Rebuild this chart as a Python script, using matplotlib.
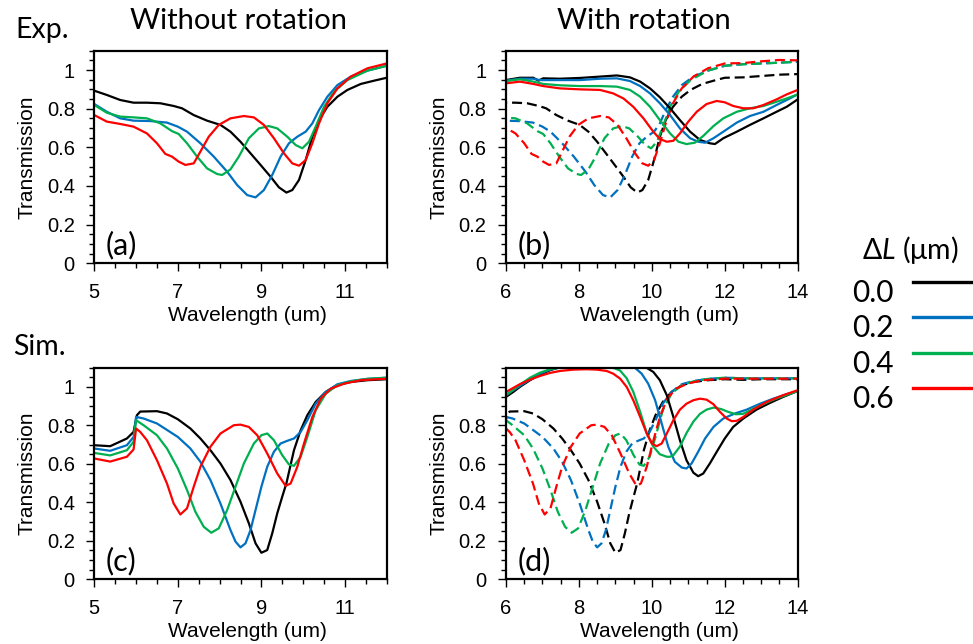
import matplotlib
matplotlib.use('Agg')
import matplotlib.pyplot as plt
from matplotlib.lines import Line2D
from matplotlib.ticker import MultipleLocator

plt.rcParams['font.family'] = ['Liberation Sans', 'DejaVu Sans']
plt.rcParams['mathtext.fontset'] = 'custom'
plt.rcParams['mathtext.rm'] = 'Lato'
plt.rcParams['mathtext.it'] = 'Lato:italic'

# ---- data ----
dL_labels = ['0.0', '0.2', '0.4', '0.6']
colors = ['#000000', '#0070C0', '#00B050', '#FF0000']

# Experiment, without rotation (panel a, and dashed lines in panel b)
exp_nr_wl = [
    [5.0, 5.3, 5.62, 5.94, 6.26, 6.58, 6.9, 7.1, 7.38, 7.7, 8.02, 8.26, 8.5, 8.74, 8.98, 9.22, 9.42, 9.6,
     9.74, 9.9, 10.06, 10.22, 10.38, 10.58, 10.82, 11.06, 11.38, 11.7, 12.0, 12.5, 13.0, 13.5, 14.0],
    [5.0, 5.3, 5.62, 5.94, 6.34, 6.74, 7.0, 7.22, 7.54, 7.86, 8.18, 8.42, 8.66, 8.86, 9.06, 9.26, 9.46,
     9.66, 9.86, 10.06, 10.22, 10.38, 10.58, 10.82, 11.14, 11.54, 12.0, 12.5, 13.0, 13.5, 14.0],
    [5.0, 5.3, 5.62, 5.94, 6.26, 6.58, 6.86, 7.02, 7.22, 7.46, 7.7, 7.94, 8.06, 8.26, 8.46, 8.7, 8.94,
     9.18, 9.38, 9.62, 9.82, 9.98, 10.14, 10.3, 10.5, 10.74, 11.06, 11.54, 12.0, 12.5, 13.0, 13.5, 14.0],
    [5.0, 5.3, 5.62, 5.94, 6.26, 6.5, 6.7, 6.86, 7.02, 7.18, 7.38, 7.54, 7.74, 7.98, 8.26, 8.58, 8.82,
     9.06, 9.3, 9.54, 9.74, 9.9, 10.06, 10.22, 10.38, 10.58, 10.82, 11.14, 11.54, 12.0, 12.5, 13.0, 13.5, 14.0],
]
exp_nr_T = [
    [.893, .871, .845, .831, .831, .828, .814, .802, .767, .738, .716, .681, .629, .569, .509, .448, .393, .366,
     .379, .431, .534, .655, .741, .81, .862, .897, .928, .945, .96, .962, .969, .976, .979],
    [.824, .784, .75, .738, .736, .728, .707, .681, .621, .552, .474, .405, .353, .341, .379, .457, .552,
     .621, .655, .681, .724, .793, .862, .922, .966, .997, 1.022, 1.03, 1.034, 1.038, 1.043],
    [.819, .779, .759, .755, .75, .724, .684, .669, .621, .552, .491, .462, .457, .486, .552, .647, .698,
     .71, .698, .655, .612, .595, .629, .707, .81, .888, .948, .997, 1.022, 1.03, 1.034, 1.038, 1.043],
    [.767, .733, .721, .707, .672, .621, .566, .552, .526, .509, .517, .578, .655, .716, .75, .762, .755,
     .716, .647, .569, .517, .505, .534, .621, .724, .828, .905, .966, 1.009, 1.034, 1.036, 1.045, 1.052, 1.05],
]

# Experiment, with rotation (solid lines in panel b)
exp_r_wl = [
    [6.0, 6.38, 6.75, 6.89, 7.02, 7.48, 8.03, 8.58, 9.04, 9.4, 9.68, 9.95, 10.22, 10.5, 10.77, 11.05,
     11.32, 11.59, 11.73, 11.96, 12.33, 12.69, 13.06, 13.42, 13.7, 14.0],
    [6.0, 6.38, 6.75, 6.93, 7.48, 8.03, 8.58, 9.04, 9.4, 9.68, 9.95, 10.22, 10.5, 10.77, 11.05, 11.27,
     11.46, 11.69, 11.96, 12.33, 12.69, 13.06, 13.42, 13.7, 14.0],
    [6.0, 6.38, 6.75, 7.02, 7.48, 8.03, 8.58, 9.04, 9.4, 9.68, 9.95, 10.22, 10.5, 10.73, 10.95, 11.18,
     11.41, 11.69, 11.96, 12.33, 12.69, 13.06, 13.42, 13.7, 14.0],
    [6.0, 6.38, 6.75, 7.02, 7.48, 8.03, 8.58, 8.94, 9.22, 9.49, 9.77, 10.04, 10.22, 10.41, 10.59, 10.77,
     11.0, 11.23, 11.5, 11.78, 12.0, 12.23, 12.51, 12.78, 13.06, 13.42, 13.7, 14.0],
]
exp_r_T = [
    [.948, .96, .96, .945, .957, .955, .959, .966, .972, .962, .94, .905, .859, .802, .741, .681,
     .638, .621, .617, .647, .681, .716, .75, .784, .81, .848],
    [.945, .955, .955, .948, .948, .948, .955, .957, .943, .917, .879, .828, .767, .698, .647, .629,
     .624, .647, .681, .728, .762, .784, .819, .845, .874],
    [.943, .952, .94, .928, .921, .917, .917, .914, .897, .862, .81, .741, .672, .629, .617, .624,
     .659, .71, .75, .784, .802, .814, .836, .853, .874],
    [.931, .94, .928, .917, .905, .9, .897, .879, .853, .81, .75, .681, .643, .629, .634, .672,
     .733, .784, .824, .84, .833, .814, .802, .802, .819, .848, .874, .897],
]

# Simulation, without rotation (panel c, and dashed lines in panel d)
sim_nr_wl = [
    [5.0, 5.38, 5.78, 5.94, 6.02, 6.1, 6.5, 6.74, 7.0, 7.3, 7.54, 7.78, 8.02, 8.26, 8.5, 8.7, 8.86, 9.0,
     9.14, 9.26, 9.38, 9.5, 9.6, 9.78, 9.94, 10.1, 10.3, 10.54, 10.82, 11.14, 11.54, 12.0, 12.5, 13.0, 14.0],
    [5.0, 5.38, 5.78, 5.94, 6.0, 6.18, 6.5, 7.0, 7.3, 7.54, 7.78, 8.02, 8.26, 8.38, 8.5, 8.62, 8.74,
     8.86, 9.0, 9.14, 9.3, 9.46, 9.62, 9.78, 9.94, 10.1, 10.3, 10.54, 10.82, 11.14, 11.54, 12.0, 12.5, 13.0, 14.0],
    [5.0, 5.38, 5.78, 5.94, 6.0, 6.18, 6.5, 6.74, 7.0, 7.22, 7.42, 7.62, 7.8, 7.98, 8.18, 8.38, 8.58,
     8.82, 9.0, 9.14, 9.3, 9.5, 9.66, 9.78, 9.94, 10.1, 10.3, 10.54, 10.82, 11.14, 11.54, 12.0, 12.5, 13.0, 14.0],
    [5.0, 5.38, 5.78, 5.94, 6.0, 6.1, 6.26, 6.5, 6.74, 6.9, 7.06, 7.22, 7.38, 7.54, 7.78, 8.02, 8.34,
     8.5, 8.7, 8.9, 9.14, 9.38, 9.58, 9.7, 9.86, 10.02, 10.22, 10.42, 10.66, 10.98, 11.38, 12.0, 12.5, 13.0, 14.0],
]
sim_nr_T = [
    [.697, .692, .732, .766, .853, .872, .874, .862, .832, .784, .732, .671, .602, .516, .403, .291, .187, .138,
     .152, .239, .343, .43, .5, .671, .775, .853, .922, .974, 1.009, 1.026, 1.035, 1.04, 1.037, 1.04, 1.04],
    [.68, .668, .697, .74, .844, .836, .81, .74, .68, .611, .516, .394, .256, .196, .166, .187, .256,
     .36, .481, .585, .663, .706, .72, .732, .766, .827, .913, .974, 1.014, 1.031, 1.042, 1.048, 1.045, 1.045, 1.045],
    [.657, .644, .671, .715, .827, .801, .749, .68, .576, .464, .351, .273, .242, .265, .36, .481, .602,
     .706, .749, .758, .723, .645, .597, .59, .637, .74, .879, .965, 1.009, 1.029, 1.042, 1.048, 1.045, 1.045, 1.045],
    [.628, .612, .637, .675, .784, .766, .723, .619, .498, .394, .337, .369, .481, .585, .689, .758, .801,
     .804, .792, .749, .654, .55, .486, .498, .585, .706, .844, .939, .991, 1.017, 1.035, 1.043, 1.043, 1.043, 1.043],
]

# Simulation, with rotation (solid lines in panel d)
sim_r_wl = [
    [6.0, 6.2, 6.38, 6.66, 6.93, 7.21, 7.44, 7.8, 8.5, 9.3, 9.7, 9.86, 10.04, 10.22, 10.41, 10.59, 10.77,
     10.95, 11.14, 11.27, 11.41, 11.59, 11.78, 12.0, 12.23, 12.51, 12.87, 13.24, 13.6, 14.0],
    [6.0, 6.2, 6.38, 6.66, 6.93, 7.21, 7.39, 8.0, 9.0, 9.4, 9.54, 9.72, 9.9, 10.09, 10.27, 10.45, 10.63,
     10.82, 10.95, 11.09, 11.27, 11.46, 11.69, 11.96, 12.28, 12.6, 12.97, 13.33, 13.7, 14.0],
    [6.0, 6.2, 6.38, 6.66, 6.93, 7.21, 7.44, 8.0, 8.94, 9.13, 9.31, 9.49, 9.68, 9.86, 10.04, 10.22, 10.41,
     10.5, 10.59, 10.77, 10.95, 11.14, 11.32, 11.5, 11.7, 11.9, 12.1, 12.3, 12.5, 12.8, 13.3, 14.0],
    [6.0, 6.2, 6.38, 6.66, 6.93, 7.21, 7.48, 7.85, 8.21, 8.49, 8.76, 8.94, 9.13, 9.31, 9.49, 9.68, 9.86,
     10.0, 10.13, 10.27, 10.41, 10.59, 10.77, 10.95, 11.14, 11.32, 11.5, 11.69, 11.87, 12.05, 12.19, 12.33,
     12.51, 12.78, 13.15, 13.6, 14.0],
]
sim_r_T = [
    [.948, .974, 1.0, 1.035, 1.064, 1.087, 1.1, 1.12, 1.13, 1.125, 1.11, 1.099, 1.078, 1.035, .957, .844, .723,
     .619, .554, .536, .55, .602, .663, .732, .792, .836, .882, .917, .948, .979],
    [.957, .983, 1.005, 1.038, 1.069, 1.09, 1.099, 1.12, 1.12, 1.11, 1.099, 1.069, 1.017, .931, .81, .689, .611,
     .581, .576, .602, .663, .732, .792, .836, .862, .882, .913, .939, .962, .979],
    [.957, .986, 1.012, 1.048, 1.074, 1.092, 1.099, 1.115, 1.1, 1.085, 1.045, .975, .87, .76, .69, .65, .637,
     .637, .645, .69, .76, .82, .86, .882, .893, .885, .87, .858, .86, .888, .931, .979],
    [.974, .995, 1.014, 1.038, 1.057, 1.073, 1.083, 1.09, 1.092, 1.09, 1.083, 1.069, 1.043, 1.0, .931, .844, .758,
     .706, .692, .706, .758, .827, .882, .913, .931, .939, .934, .91, .87, .836, .822, .824,
     .844, .882, .922, .957, .983],
]

# ---- figure ----
fig = plt.figure(figsize=(9.73, 6.44), dpi=100)
W, H = 973.0, 644.0

def add_panel(x0, x1, y0, y1):
    return fig.add_axes([x0 / W, 1 - y1 / H, (x1 - x0) / W, (y1 - y0) / H])

ax_a = add_panel(94.3, 386.7, 50.7, 263.3)
ax_b = add_panel(506.0, 797.7, 50.7, 263.3)
ax_c = add_panel(94.3, 386.7, 367.7, 579.3)
ax_d = add_panel(506.0, 797.7, 367.7, 579.3)

LW = 1.6
DASH = (4.5, 2.2)

for i in range(4):
    ax_a.plot(exp_nr_wl[i], exp_nr_T[i], color=colors[i], lw=LW)
    ax_c.plot(sim_nr_wl[i], sim_nr_T[i], color=colors[i], lw=LW)
for i in range(4):
    ax_b.plot(exp_nr_wl[i], exp_nr_T[i], color=colors[i], lw=LW, dashes=DASH)
    ax_d.plot(sim_nr_wl[i], sim_nr_T[i], color=colors[i], lw=LW, dashes=DASH)
for i in range(4):
    ax_b.plot(exp_r_wl[i], exp_r_T[i], color=colors[i], lw=LW)
    ax_d.plot(sim_r_wl[i], sim_r_T[i], color=colors[i], lw=LW)

yticks = [0, 0.2, 0.4, 0.6, 0.8, 1]
calib = ['Lato', 'DejaVu Sans']
for ax, xlim, xt, lab in [(ax_a, (5, 12), [5, 7, 9, 11], '(a)'),
                          (ax_b, (6, 14), [6, 8, 10, 12, 14], '(b)'),
                          (ax_c, (5, 12), [5, 7, 9, 11], '(c)'),
                          (ax_d, (6, 14), [6, 8, 10, 12, 14], '(d)')]:
    ax.set_xlim(*xlim)
    ax.set_ylim(0, 1.1)
    ax.set_xticks(xt)
    ax.set_xticklabels([str(v) for v in xt])
    ax.set_yticks(yticks)
    ax.set_yticklabels(['%g' % v for v in yticks])
    ax.xaxis.set_minor_locator(MultipleLocator(0.5))
    ax.yaxis.set_minor_locator(MultipleLocator(0.05))
    ax.tick_params(which='both', direction='out', top=False, right=False,
                   labelsize=14.5, pad=8, width=1.0)
    ax.tick_params(which='major', length=6)
    ax.tick_params(which='minor', length=3.5)
    for s in ax.spines.values():
        s.set_linewidth(1.6)
    ax.set_xlabel('Wavelength (um)', fontsize=15)
    ax.xaxis.set_label_coords(0.525, -0.2)
    ax.set_ylabel('Transmission', fontsize=15)
    ax.yaxis.set_label_coords(-0.197, 0.5)
    ax.text(0.04, 0.085, lab, transform=ax.transAxes, fontsize=22,
            family=calib, ha='left', va='center')

fig.text(238.5 / W, 1 - 21 / H, 'Without rotation', ha='center', va='center',
         fontsize=21, family=calib)
fig.text(644 / W, 1 - 21 / H, 'With rotation', ha='center', va='center',
         fontsize=21, family=calib)
fig.text(15 / W, 1 - 30 / H, 'Exp.', ha='left', va='center', fontsize=20.5, family=calib)
fig.text(13 / W, 1 - 347 / H, 'Sim.', ha='left', va='center', fontsize=20.5, family=calib)

# legend (drawn by hand to match the layout)
fig.text(910 / W, 1 - 250 / H, r'Δ$\mathit{L}$ (μm)', ha='center', va='center',
         fontsize=20.5, family=calib)
line_y = [281.7, 317.3, 352.7, 388.0]
for i in range(4):
    fig.text(852 / W, 1 - (line_y[i] + 11) / H, dL_labels[i], ha='left', va='center',
             fontsize=21.5, family=calib)
    fig.add_artist(Line2D([912.7 / W, 970.7 / W], [1 - line_y[i] / H] * 2,
                          color=colors[i], lw=2.4, transform=fig.transFigure))

fig.savefig('out.png', dpi=100)
